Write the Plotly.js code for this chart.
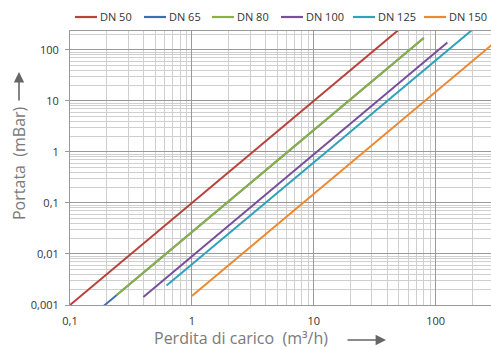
<!DOCTYPE html>
<html><head><meta charset="utf-8">
<script src="https://cdn.plot.ly/plotly-3.0.1.min.js"></script>
<style>html,body{margin:0;padding:0;background:#fff}#c{width:491px;height:349px}</style>
</head><body><div id="c"></div>
<script>
const seriesNames = ["DN 50","DN 65","DN 80","DN 100","DN 125","DN 150"];
const colors = ["#b8423c","#3d6db3","#8bb241","#774f9b","#2ea2bd","#ec8930"];
const qDN50 = [0.1, 1, 10, 50];     const pDN50 = [0.001, 0.1, 10, 250];
const qDN65 = [0.19, 1, 10, 80];    const pDN65 = [0.00097, 0.027, 2.7, 172];
const qDN80 = [0.24, 1, 10, 80];    const pDN80 = [0.00156, 0.027, 2.7, 172];
const qDN100 = [0.4, 1, 10, 125];   const pDN100 = [0.00144, 0.009, 0.9, 140];
const qDN125 = [0.62, 1, 10, 200];  const pDN125 = [0.0024, 0.0062, 0.62, 248];
const qDN150 = [1, 10, 100, 300];   const pDN150 = [0.0015, 0.15, 15, 135];
const xs = [qDN50,qDN65,qDN80,qDN100,qDN125,qDN150];
const ys = [pDN50,pDN65,pDN80,pDN100,pDN125,pDN150];
const xTickVals = [0.1, 1, 10, 100];
const xTickText = ["0,1","1","10","100"];
const yTickVals = [0.001, 0.01, 0.1, 1, 10, 100];
const yTickText = ["0,001","0,01","0,1","1","10","100"];

const traces = seriesNames.map((n,i)=>({
  x: xs[i], y: ys[i], name: n, mode: "lines", type: "scatter",
  line: {color: colors[i], width: 2}, cliponaxis: true, showlegend: false
}));

// layout helpers (pixel -> paper)
const L = 70, T = 31, W = 421, H = 274;
const px = v => (v - L) / W;
const py = v => (T + H - v) / H;
const legendStarts = [75, 144, 212, 281, 353, 424];
const legendY = 17, legendLine = 22;

const shapes = [], annotations = [];
seriesNames.forEach((n, i) => {
  const x0 = legendStarts[i];
  shapes.push({type: "line", xref: "paper", yref: "paper",
    x0: px(x0), x1: px(x0 + legendLine), y0: py(legendY), y1: py(legendY),
    line: {color: colors[i], width: 2.2}});
  annotations.push({xref: "paper", yref: "paper", x: px(x0 + legendLine + 1), y: py(legendY),
    xanchor: "left", yanchor: "middle", text: n, showarrow: false,
    font: {size: 11, color: "#333"}});
});

const fam = "Open Sans, Noto Sans, sans-serif";
annotations.push(
  {xref: "paper", yref: "paper", x: px(19), y: py(163), xanchor: "center", yanchor: "middle",
   textangle: -90, text: "Portata  (mBar)", showarrow: false, font: {size: 16, color: "#7a7a7a"}},
  {xref: "paper", yref: "paper", x: px(241), y: py(338), yanchor: "middle", xanchor: "center",
   text: "Perdita di carico  (m³/h)", showarrow: false, font: {size: 16, color: "#7a7a7a"}},
  {xref: "paper", yref: "paper", x: px(386), y: py(340), ax: -40, ay: 0,
   showarrow: true, arrowhead: 2, arrowsize: 1.3, arrowwidth: 1.6, arrowcolor: "#666", text: ""},
  {xref: "paper", yref: "paper", x: px(19), y: py(72), ax: 0, ay: 30,
   showarrow: true, arrowhead: 2, arrowsize: 1.3, arrowwidth: 1.6, arrowcolor: "#666", text: ""}
);

const layout = {
  width: 491, height: 349,
  margin: {l: L, r: 0, t: T, b: 44, autoexpand: false},
  paper_bgcolor: "#fff", plot_bgcolor: "#fff",
  font: {family: fam, size: 11, color: "#333"},
  showlegend: false,
  xaxis: {type: "log", range: [-1, Math.log10(285)],
    tickvals: xTickVals, ticktext: xTickText, ticks: "", ticklabelstandoff: 6,
    showgrid: true, gridcolor: "#9a9a9a", gridwidth: 1,
    minor: {dtick: "D1", showgrid: true, gridcolor: "#cfcfcf", gridwidth: 1, ticks: ""},
    showline: true, linecolor: "#9a9a9a", mirror: true, zeroline: false,
    tickfont: {size: 11, color: "#333"}},
  yaxis: {type: "log", range: [-3, Math.log10(235)],
    tickvals: yTickVals, ticktext: yTickText, ticks: "outside", ticklen: 4, tickcolor: "#9a9a9a",
    ticklabelstandoff: 4,
    showgrid: true, gridcolor: "#9a9a9a", gridwidth: 1,
    minor: {dtick: "D1", showgrid: true, gridcolor: "#cfcfcf", gridwidth: 1, ticks: ""},
    showline: true, linecolor: "#9a9a9a", mirror: true, zeroline: false,
    tickfont: {size: 11, color: "#333"}},
  shapes: shapes,
  annotations: annotations
};
Plotly.newPlot("c", traces, layout, {staticPlot: true, displayModeBar: false});
</script></body></html>
